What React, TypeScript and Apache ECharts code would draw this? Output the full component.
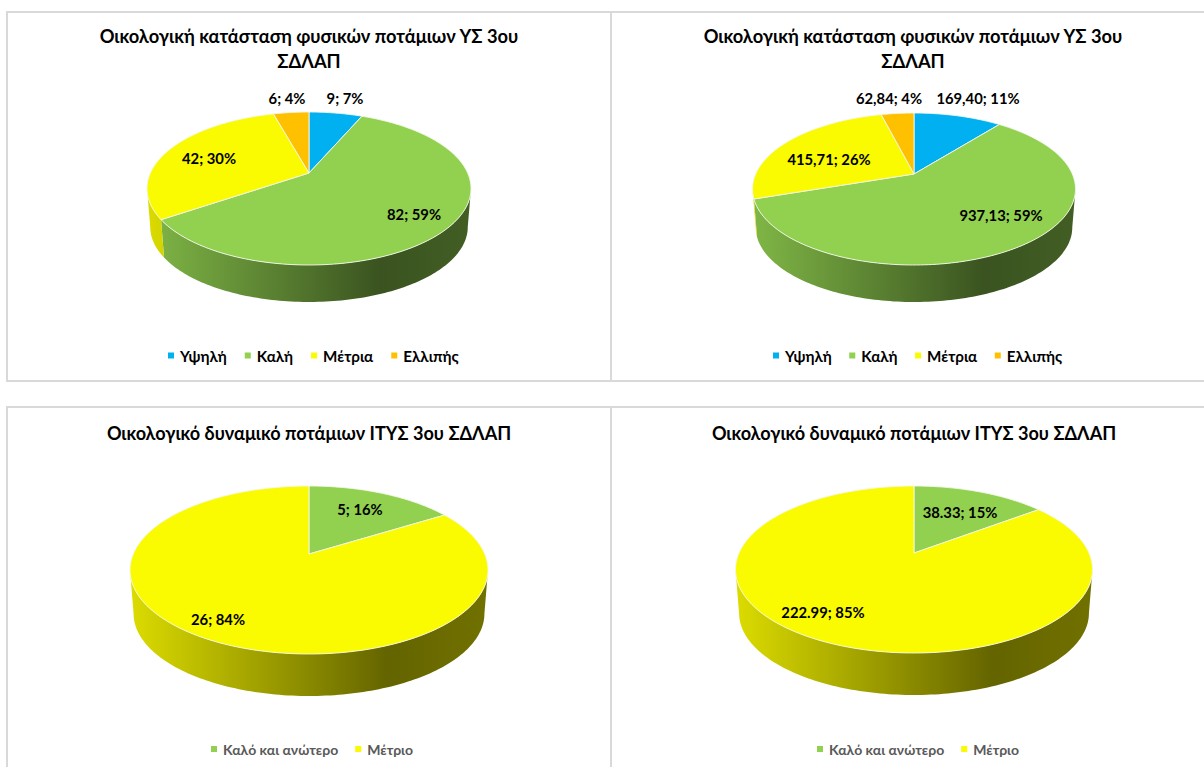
import React, { useEffect, useRef } from "react";
import * as echarts from "echarts";

const FONT = "Lato";

const statusNames = ["Υψηλή", "Καλή", "Μέτρια", "Ελλιπής"];
const statusColors = ["#00B0F0", "#92D050", "#FAFA00", "#FFC000"];
const potentialNames = ["Καλό και ανώτερο", "Μέτριο"];
const potentialColors = ["#92D050", "#FAFA00"];

const countValues = [9, 82, 42, 6];
const countLabels = ["9; 7%", "82; 59%", "42; 30%", "6; 4%"];
const lengthValues = [169.4, 937.13, 415.71, 62.84];
const lengthLabels = ["169,40; 11%", "937,13; 59%", "415,71; 26%", "62,84; 4%"];
const potentialCountValues = [5, 26];
const potentialCountLabels = ["5; 16%", "26; 84%"];
const potentialLengthValues = [38.33, 222.99];
const potentialLengthLabels = ["38.33; 15%", "222.99; 85%"];

const statusTitle = "Οικολογική κατάσταση φυσικών ποτάμιων ΥΣ 3ου\nΣΔΛΑΠ";
const potentialTitle = "Οικολογικό δυναμικό ποτάμιων ΙΤΥΣ 3ου ΣΔΛΑΠ";

const panels = [
  {
    title: statusTitle, titleX: 309, titleY: 23, titleSize: 18.3, names: statusNames, colors: statusColors,
    values: countValues, labels: countLabels,
    cx: 309, cy: 173, left: 147, right: 471, top: 112, bottom: 265, wallBottom: 302,
    labelAt: [[345, 97.5], [414, 213.5], [209, 157.5], [287, 97.5]],
    legendX: 168, legendY: 348, legendGap: 18, legendColor: "#000000", legendSize: 15.2,
  },
  {
    title: statusTitle, titleX: 913, titleY: 23, titleSize: 18.3, names: statusNames, colors: statusColors,
    values: lengthValues, labels: lengthLabels,
    cx: 914, cy: 174, left: 752, right: 1075, top: 113, bottom: 265, wallBottom: 302,
    labelAt: [[978, 97.5], [1001, 215], [829, 158.5], [889, 97.5]],
    legendX: 773, legendY: 348, legendGap: 17.5, legendColor: "#000000", legendSize: 15.2,
  },
  {
    title: potentialTitle, titleX: 309, titleY: 420, titleSize: 18.1, names: potentialNames, colors: potentialColors,
    values: potentialCountValues, labels: potentialCountLabels,
    cx: 309, cy: 554, left: 130, right: 488, top: 486, bottom: 654, wallBottom: 696,
    labelAt: [[360, 508.5], [218, 618.5]],
    legendX: 211, legendY: 742, legendGap: 17, legendColor: "#595959", legendSize: 14,
  },
  {
    title: potentialTitle, titleX: 914, titleY: 420, titleSize: 18.1, names: potentialNames, colors: potentialColors,
    values: potentialLengthValues, labels: potentialLengthLabels,
    cx: 914, cy: 553, left: 736, right: 1093, top: 486, bottom: 653, wallBottom: 695,
    labelAt: [[960, 512], [823, 612]],
    legendX: 817, legendY: 742, legendGap: 17, legendColor: "#595959", legendSize: 14,
  },
];

function shade(hex: string, f: number) {
  const n = parseInt(hex.slice(1), 16);
  const c = [(n >> 16) & 255, (n >> 8) & 255, n & 255].map((x) => Math.round(x * f));
  return `rgb(${c[0]},${c[1]},${c[2]})`;
}

function sampleArc(a0: number, a1: number, fn: (a: number) => number[]) {
  const steps = Math.max(2, Math.ceil(Math.abs(a1 - a0) / 0.02));
  const pts: number[][] = [];
  for (let i = 0; i <= steps; i++) pts.push(fn(a0 + ((a1 - a0) * i) / steps));
  return pts;
}

function pieSeries(panel: any) {
  const total = panel.values.reduce((s: number, v: number) => s + v, 0);
  const d1 = panel.cy - panel.top;
  const d2 = panel.bottom - panel.cy;
  const k = (d2 - d1) / (d2 + d1);
  const S = d1 * (1 + k);
  const R = ((panel.right - panel.left) / 2) * Math.sqrt(1 - k * k);
  const shrink = 0.98;
  const depth = panel.wallBottom - panel.cy - d2 * shrink;
  const project = (a: number) => {
    const w = 1 + k * Math.cos(a);
    return [panel.cx + (R * Math.sin(a)) / w, panel.cy - (S * Math.cos(a)) / w];
  };
  const lower = (a: number) => {
    const p = project(a);
    return [panel.cx + (p[0] - panel.cx) * shrink, panel.cy + (p[1] - panel.cy) * shrink + depth];
  };
  const visFrom = Math.acos(-k);
  const visTo = 2 * Math.PI - visFrom;
  const starts: number[] = [];
  panel.values.reduce((acc: number, v: number) => {
    starts.push(acc);
    return acc + v;
  }, 0);

  return panel.values.map((_: number, idx: number) => ({
    type: "custom",
    name: panel.names[idx],
    coordinateSystem: "none",
    silent: true,
    itemStyle: { color: panel.colors[idx] },
    data: [[panel.values[idx]]],
    z: 2,
    renderItem: (_p: any, api: any) => {
      const value = api.value(0);
      const a0 = (starts[idx] / total) * 2 * Math.PI;
      const a1 = ((starts[idx] + value) / total) * 2 * Math.PI;
      const color = panel.colors[idx];
      const children: any[] = [];
      const w0 = Math.max(a0, visFrom);
      const w1 = Math.min(a1, visTo);
      if (w1 > w0) {
        const fill = new echarts.graphic.LinearGradient(
          panel.left, 0, panel.right, 0,
          [
            { offset: 0, color: shade(color, 0.88) },
            { offset: 0.72, color: shade(color, 0.4) },
            { offset: 1, color: shade(color, 0.45) },
          ],
          true
        );
        children.push({
          type: "polygon",
          shape: { points: [...sampleArc(w0, w1, project), ...sampleArc(w1, w0, lower)] },
          style: { fill },
        });
      }
      children.push({
        type: "polygon",
        z2: 5,
        shape: { points: [[panel.cx, panel.cy], ...sampleArc(a0, a1, project)] },
        style: { fill: color, stroke: "#F4F7EC", lineWidth: 0.9 },
      });
      children.push({
        type: "text",
        z2: 50,
        x: panel.labelAt[idx][0],
        y: panel.labelAt[idx][1],
        style: {
          text: panel.labels[idx],
          fill: "#000000",
          font: `bold 14.8px ${FONT}`,
          align: "center",
          verticalAlign: "middle",
        },
      });
      return { type: "group", children };
    },
  }));
}

function buildOption() {
  const line = { stroke: "#D9D9D9", lineWidth: 2, fill: "none" };
  return {
    animation: false,
    backgroundColor: "#FFFFFF",
    title: panels.map((p) => ({
      text: p.title,
      left: p.titleX,
      top: p.titleY,
      textAlign: "center",
      padding: 0,
      textStyle: { fontFamily: FONT, fontSize: p.titleSize, fontWeight: "bold", color: "#000000", lineHeight: 25 },
    })),
    legend: panels.map((p) => ({
      data: p.names,
      left: p.legendX,
      top: p.legendY,
      padding: 0,
      itemWidth: 6,
      itemHeight: 6,
      itemGap: p.legendGap,
      icon: "rect",
      selectedMode: false,
      textStyle: { fontFamily: FONT, fontSize: p.legendSize, fontWeight: "bold", color: p.legendColor, padding: [0, 0, 0, 1] },
    })),
    graphic: [
      { type: "rect", silent: true, shape: { x: 7, y: 12, width: 604, height: 369 }, style: line },
      { type: "rect", silent: true, shape: { x: 611, y: 12, width: 620, height: 369 }, style: line },
      { type: "rect", silent: true, shape: { x: 7, y: 407, width: 604, height: 400 }, style: line },
      { type: "rect", silent: true, shape: { x: 611, y: 407, width: 620, height: 400 }, style: line },
    ],
    series: panels.flatMap(pieSeries),
  };
}

export default function App() {
  const ref = useRef<HTMLDivElement>(null);
  useEffect(() => {
    const chart = echarts.init(ref.current!, undefined, { renderer: "svg" });
    chart.setOption(buildOption() as any);
    return () => chart.dispose();
  }, []);
  return <div ref={ref} style={{ position: "absolute", left: 0, top: 0, width: 1204, height: 767, overflow: "hidden" }} />;
}
